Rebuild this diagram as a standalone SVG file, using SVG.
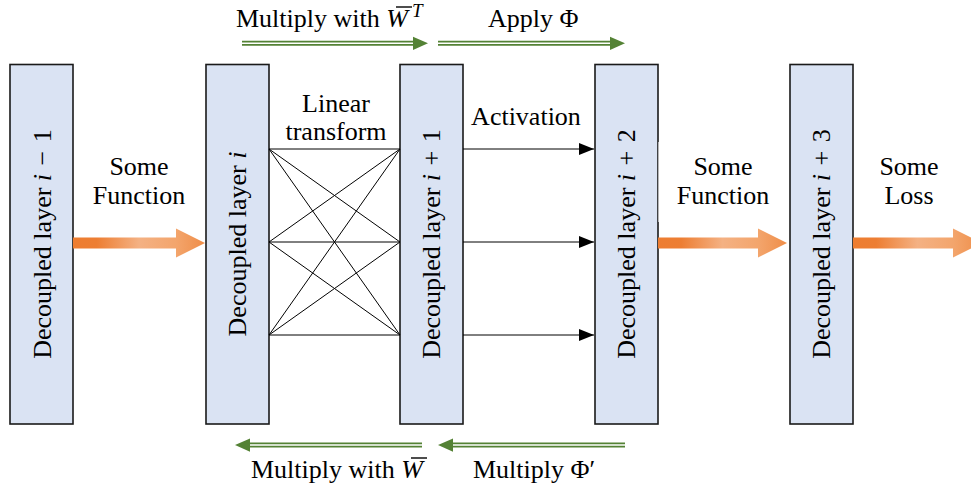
<svg xmlns="http://www.w3.org/2000/svg" width="971" height="488" viewBox="0 0 971 488">
  <style>
    .box { fill: #DAE3F3; stroke: #1a1a1a; stroke-width: 1.6; }
    .lbl { font-family: "Liberation Serif", "Times New Roman", serif; font-size: 26px; fill: #000; }
    .vlbl { font-family: "Liberation Serif", "Times New Roman", serif; font-size: 26px; fill: #000; text-anchor: middle; }
    .it { font-style: italic; }
    .mid { text-anchor: middle; }
    .thin { stroke: #000; stroke-width: 1; fill: none; }
    .bar { stroke: #000; stroke-width: 1.4; }
    .gOuter { stroke: #548235; stroke-width: 5; fill: none; }
    .gInner { stroke: #fff; stroke-width: 1.6; fill: none; }
    .gHead { fill: #548235; }
  </style>
  <defs>
    <linearGradient id="orangeGrad" x1="0" y1="0" x2="1" y2="0">
      <stop offset="0" stop-color="#ED7D31"/>
      <stop offset="0.18" stop-color="#ED7E33"/>
      <stop offset="0.5" stop-color="#F4B183"/>
      <stop offset="0.78" stop-color="#F3A56C"/>
      <stop offset="1" stop-color="#EF8D48"/>
    </linearGradient>
    <marker id="blackHead" viewBox="0 0 15 12" refX="15" refY="6" markerWidth="15" markerHeight="12" markerUnits="userSpaceOnUse" orient="auto">
      <path d="M0,0 L15,6 L0,12 Z" fill="#000"/>
    </marker>
  </defs>

  <!-- layers -->
  <g id="layer-im1">
    <rect class="box" x="10" y="64.5" width="63" height="359.5"/>
    <text class="vlbl" transform="translate(42,244) rotate(-90)" y="8.5">Decoupled layer <tspan class="it">i</tspan><tspan dx="2"> − </tspan><tspan dx="2">1</tspan></text>
  </g>
  <g id="layer-i">
    <rect class="box" x="206" y="64.5" width="63" height="359.5"/>
    <text class="vlbl" transform="translate(237.5,244) rotate(-90)" y="8.5">Decoupled layer <tspan class="it">i</tspan></text>
  </g>
  <g id="layer-ip1">
    <rect class="box" x="400" y="64.5" width="63" height="359.5"/>
    <text class="vlbl" transform="translate(431.5,244) rotate(-90)" y="8.5">Decoupled layer <tspan class="it">i</tspan><tspan dx="2"> + </tspan><tspan dx="2">1</tspan></text>
  </g>
  <g id="layer-ip2">
    <rect class="box" x="595" y="64.5" width="63" height="359.5"/>
    <text class="vlbl" transform="translate(626.5,244) rotate(-90)" y="8.5">Decoupled layer <tspan class="it">i</tspan><tspan dx="2"> + </tspan><tspan dx="2">2</tspan></text>
  </g>
  <g id="layer-ip3">
    <rect class="box" x="790" y="64.5" width="63" height="359.5"/>
    <text class="vlbl" transform="translate(821.5,244) rotate(-90)" y="8.5">Decoupled layer <tspan class="it">i</tspan><tspan dx="2"> + </tspan><tspan dx="2">3</tspan></text>
  </g>

  <!-- connectors -->
  <g id="connectors">
    <!-- dense linear transform between layer i and i+1 -->
    <g id="linear-transform">
      <path class="thin" d="M269,149 L400,149 M269,242 L400,242 M269,335 L400,335
        M269,149 L400,242 M269,149 L400,335
        M269,242 L400,149 M269,242 L400,335
        M269,335 L400,149 M269,335 L400,242"/>
    </g>
    <!-- activation arrows -->
    <g id="activation">
      <line class="thin" x1="463" y1="149" x2="594" y2="149" marker-end="url(#blackHead)"/>
      <line class="thin" x1="463" y1="242" x2="594" y2="242" marker-end="url(#blackHead)"/>
      <line class="thin" x1="463" y1="335" x2="594" y2="335" marker-end="url(#blackHead)"/>
    </g>
    <!-- block arrows -->
    <g id="block-arrows">
      <path d="M73,237.5 H176 V228.5 L205,243 L176,257.5 V248.5 H73 Z" fill="url(#orangeGrad)"/>
      <path d="M658,237.5 H758 V228.5 L787,243 L758,257.5 V248.5 H658 Z" fill="url(#orangeGrad)"/>
      <path d="M853,237.5 H953 V228.5 L982,243 L953,257.5 V248.5 H853 Z" fill="url(#orangeGrad)"/>
    </g>
    <!-- forward pass arrows -->
    <g id="forward">
      <line class="gOuter" x1="242" y1="43.3" x2="415" y2="43.3"/>
      <line class="gInner" x1="242" y1="43.3" x2="415" y2="43.3"/>
      <path class="gHead" d="M413,36.7 L428,43.3 L413,50 Z"/>
      <line class="gOuter" x1="438" y1="43.3" x2="612" y2="43.3"/>
      <line class="gInner" x1="438" y1="43.3" x2="612" y2="43.3"/>
      <path class="gHead" d="M610,36.7 L625,43.3 L610,50 Z"/>
    </g>
    <!-- backward pass arrows -->
    <g id="backward">
      <line class="gOuter" x1="248" y1="445" x2="422" y2="445"/>
      <line class="gInner" x1="248" y1="445" x2="422" y2="445"/>
      <path class="gHead" d="M250,438.4 L235,445 L250,451.7 Z"/>
      <line class="gOuter" x1="451" y1="445" x2="625" y2="445"/>
      <line class="gInner" x1="451" y1="445" x2="625" y2="445"/>
      <path class="gHead" d="M453,438.4 L438,445 L453,451.7 Z"/>
    </g>
  </g>

  <!-- labels -->
  <g id="labels">
    <text class="lbl mid" x="139" y="175">Some</text>
    <text class="lbl mid" x="139" y="204">Function</text>
    <text class="lbl mid" x="336" y="112">Linear</text>
    <text class="lbl mid" x="336" y="140">transform</text>
    <text class="lbl mid" x="526" y="125">Activation</text>
    <rect x="658.4" y="142" width="1.2" height="80" fill="#fff"/>
    <text class="lbl mid" x="723" y="175">Some</text>
    <text class="lbl mid" x="723" y="204">Function</text>
    <text class="lbl mid" x="909" y="175">Some</text>
    <text class="lbl mid" x="909" y="204">Loss</text>

    <text class="lbl" x="236" y="27">Multiply with <tspan class="it">W</tspan><tspan class="it" dx="4" dy="-10" font-size="19">T</tspan></text>
    <line class="bar" x1="396" y1="7" x2="412" y2="7"/>
    <text class="lbl" x="488" y="27">Apply Φ</text>
    <text class="lbl" x="251" y="478">Multiply with <tspan class="it">W</tspan></text>
    <line class="bar" x1="411" y1="458" x2="427" y2="458"/>
    <text class="lbl" x="473" y="478">Multiply Φ′</text>
  </g>
</svg>
